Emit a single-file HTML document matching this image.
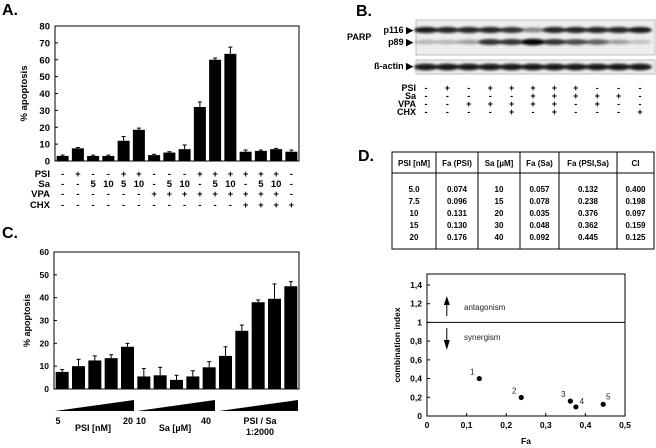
<!DOCTYPE html>
<html><head><meta charset="utf-8">
<style>
html,body{margin:0;padding:0;background:#fff;}
svg{display:block;font-family:"Liberation Sans",Arial,sans-serif;}
.b{font-weight:bold;}
</style></head>
<body>
<svg id="fig" width="656" height="448" viewBox="0 0 656 448" xmlns="http://www.w3.org/2000/svg">
<defs>
<filter id="blur1" x="-20%" y="-100%" width="140%" height="300%"><feGaussianBlur stdDeviation="1.3"/></filter>
</defs>
<g id="panelA"></g>
<g id="panelB"></g>
<g id="panelC"></g>
<g id="panelD"></g>
</svg>
<script>
// ---- Panel A data ----
const aValues = [3, 7.5, 3, 3, 12, 18.5, 3.5, 5, 7, 32, 60, 63.5, 5.5, 6, 7, 5.5];
const aErrTop = [3.5, 8, 3.5, 3.5, 14.5, 19.5, 4, 5.5, 9.5, 35, 61, 67.5, 6.5, 6.5, 7.5, 6.5];
const aTicks = [0, 10, 20, 30, 40, 50, 60, 70, 80];
const aRowNames = ["PSI", "Sa", "VPA", "CHX"];
const aPSI = ["-","+","-","-","+","+","-","-","-","+","+","+","+","+","+","-"];
const aSa  = ["-","-","5","10","5","10","-","5","10","-","5","10","-","5","10","-"];
const aVPA = ["-","-","-","-","-","-","+","+","+","+","+","+","+","+","+","-"];
const aCHX = ["-","-","-","-","-","-","-","-","-","-","-","-","+","+","+","+"];
// ---- Panel B data ----
const bPSI = ["-","+","-","+","+","+","+","+","-","-","-"];
const bSa  = ["-","-","-","-","-","+","+","+","+","+","-"];
const bVPA = ["-","-","+","+","+","+","+","-","+","-","-"];
const bCHX = ["-","-","-","-","+","-","+","-","-","-","+"];
const bP116 = [0.9, 0.85, 0.85, 0.85, 0.8, 0.45, 0.85, 0.85, 0.85, 0.85, 0.9];
const bP89  = [0.25, 0.25, 0.35, 0.8, 0.8, 1.0, 0.8, 0.7, 0.6, 0.35, 0.2];
const bActin = [0.9, 0.9, 0.9, 0.9, 0.9, 0.9, 0.9, 0.9, 0.9, 0.9, 0.9];
// ---- Panel C data ----
const cValues = [7.5, 10, 12.5, 13.5, 18.5, 5.5, 6, 4, 5.5, 9.5, 14.5, 25.5, 38, 39.5, 45];
const cErrTop = [8.5, 13, 14.5, 15, 20, 9, 9.5, 6, 8, 12, 18.5, 28, 39, 46, 47];
const cTicks = [0, 10, 20, 30, 40, 50, 60];
// ---- Panel D data ----
const dHeaders = ["PSI [nM]", "Fa (PSI)", "Sa [\u00B5M]", "Fa (Sa)", "Fa (PSI,Sa)", "CI"];
const dPSI = ["5.0", "7.5", "10", "15", "20"];
const dFaPSI = ["0.074", "0.096", "0.131", "0.130", "0.176"];
const dSa = ["10", "15", "20", "30", "40"];
const dFaSa = ["0.057", "0.078", "0.035", "0.048", "0.092"];
const dFaComb = [0.132, 0.238, 0.376, 0.362, 0.445];
const dCI = [0.400, 0.198, 0.097, 0.159, 0.125];
const dPointFa = [0.132, 0.238, 0.362, 0.376, 0.445];
const dPointCI = [0.400, 0.198, 0.159, 0.097, 0.125];
const dPointLabels = ["1", "2", "3", "4", "5"];
const dXTicks = [0, 0.1, 0.2, 0.3, 0.4, 0.5];
const dYTicks = [0, 0.2, 0.4, 0.6, 0.8, 1, 1.2, 1.4];

const NS = "http://www.w3.org/2000/svg";
function mk(parent, tag, attrs, text) {
  const el = document.createElementNS(NS, tag);
  for (const k in attrs) el.setAttribute(k, attrs[k]);
  if (text !== undefined) el.textContent = text;
  parent.appendChild(el);
  return el;
}
function fmtComma(v){ return (Math.round(v*10)/10).toString().replace('.', ','); }

// ================= Panel A =================
(function(){
  const g = document.getElementById('panelA');
  let t = mk(g,'text',{x:2,y:15,'font-size':16,'font-weight':'bold'},'A.');
  
  
  const x0=55, x1=299, yTop=26, yBot=161, vmax=80;
  const ys = v => yBot - v/vmax*(yBot-yTop);
  const step = (x1-x0)/aValues.length;
  const xc = i => x0 + step*(i+0.5);
  let r = mk(g,'rect',{x:x0,y:yTop,width:x1-x0,height:yBot-yTop,fill:'none',stroke:'#000','stroke-width':1});
  
  
  aTicks.forEach(v=>{
    const tk = mk(g,'line',{x1:x0,x2:x0+3,y1:ys(v),y2:ys(v),stroke:'#000'});
    
    
    const tl = mk(g,'text',{x:x0-5,y:ys(v)+3.5,'font-size':9.5,'font-weight':'bold','text-anchor':'end'},v);
    
    
  });
  const yt = mk(g,'text',{x:0,y:0,'font-size':9.5,'font-weight':'bold','text-anchor':'middle',transform:'translate(27,'+((yTop+yBot)/2)+') rotate(-90)'},'% apoptosis');
  
  
  const bw = 12;
  aValues.forEach((v,i)=>{
    const cx = xc(i);
    const e = mk(g,'line',{x1:cx,x2:cx,y1:ys(v),y2:ys(aErrTop[i]),stroke:'#000','stroke-width':1});
    
    
    const c = mk(g,'line',{x1:cx-2,x2:cx+2,y1:ys(aErrTop[i]),y2:ys(aErrTop[i]),stroke:'#000','stroke-width':1});
    
    
    const b = mk(g,'rect',{x:cx-bw/2,y:ys(v),width:bw,height:yBot-ys(v),fill:'#000'});
    
    
  });
  const rows=[aPSI,aSa,aVPA,aCHX], rowY=[177,187,197,208];
  rows.forEach((row,ri)=>{
    const lab = mk(g,'text',{x:50,y:rowY[ri],'font-size':9.5,'font-weight':'bold','text-anchor':'end'},aRowNames[ri]);
    
    
    row.forEach((s,i)=>{
      const tt = mk(g,'text',{x:xc(i),y:rowY[ri],'font-size':9.5,'font-weight':'bold','text-anchor':'middle'},s);
      
      
    });
  });
})();

// ================= Panel B =================
(function(){
  const g = document.getElementById('panelB');
  let t = mk(g,'text',{x:356,y:16,'font-size':16,'font-weight':'bold'},'B.');
  
  
  const lx0=426, lx1=640, n=bP116.length;
  const lx = i => lx0 + (lx1-lx0)*i/(n-1);
  const f1 = mk(g,'rect',{x:416,y:20,width:239,height:35,fill:'#eeeeee',stroke:'#999','stroke-width':0.6});
  
  
  const f2 = mk(g,'rect',{x:416,y:60,width:239,height:14,fill:'#eeeeee',stroke:'#999','stroke-width':0.6});
  
  
  const bandSets=[[bP116,30,3],[bP89,42,3],[bActin,67,3.2]];
  const names=['p116-band','p89-band','actin-band'];
  bandSets.forEach((bs,k)=>{
    bs[0].forEach((v,i)=>{
      const e = mk(g,'ellipse',{cx:lx(i),cy:bs[1],rx:12,ry:bs[2]*(0.6+0.5*v),fill:'#000','fill-opacity':v,filter:'url(#blur1)'});
      
      
    });
  });
  const labs=[['p116 \u25B6',372,33],['p89 \u25B6',372,45],['\u00DF-actin \u25B6',366,69]];
  labs.forEach(l=>{
    const tt = mk(g,'text',{x:413,y:l[2],'font-size':9,'font-weight':'bold','text-anchor':'end'},l[0]);
    
    
  });
  const p = mk(g,'text',{x:347,y:40,'font-size':9,'font-weight':'bold'},'PARP');
  
  
  const rows=[bPSI,bSa,bVPA,bCHX], rn=['PSI','Sa','VPA','CHX'], ry=[91,99,107,115];
  rows.forEach((row,ri)=>{
    const lab = mk(g,'text',{x:416,y:ry[ri],'font-size':9,'font-weight':'bold','text-anchor':'end'},rn[ri]);
    
    
    row.forEach((s,i)=>{
      const tt = mk(g,'text',{x:lx(i),y:ry[ri],'font-size':9,'font-weight':'bold','text-anchor':'middle'},s);
      
      
    });
  });
})();

// ================= Panel C =================
(function(){
  const g = document.getElementById('panelC');
  let t = mk(g,'text',{x:2,y:238,'font-size':16,'font-weight':'bold'},'C.');
  
  
  const x0=54, x1=299, yTop=252, yBot=389, vmax=60;
  const ys = v => yBot - v/vmax*(yBot-yTop);
  const step=(x1-x0)/cValues.length;
  const xc = i => x0 + step*(i+0.5);
  let r = mk(g,'rect',{x:x0,y:yTop,width:x1-x0,height:yBot-yTop,fill:'none',stroke:'#000','stroke-width':1});
  
  
  cTicks.forEach(v=>{
    const tk = mk(g,'line',{x1:x0,x2:x0+3,y1:ys(v),y2:ys(v),stroke:'#000'});
    
    
    const tl = mk(g,'text',{x:x0-5,y:ys(v)+3,'font-size':8.5,'font-weight':'bold','text-anchor':'end'},v);
    
    
  });
  const yt = mk(g,'text',{x:0,y:0,'font-size':9,'font-weight':'bold','text-anchor':'middle',transform:'translate(30,'+((yTop+yBot)/2)+') rotate(-90)'},'% apoptosis');
  
  
  const bw=13;
  cValues.forEach((v,i)=>{
    const cx=xc(i);
    const e = mk(g,'line',{x1:cx,x2:cx,y1:ys(v),y2:ys(cErrTop[i]),stroke:'#000'});
    
    
    const c = mk(g,'line',{x1:cx-2,x2:cx+2,y1:ys(cErrTop[i]),y2:ys(cErrTop[i]),stroke:'#000'});
    
    
    const b = mk(g,'rect',{x:cx-bw/2,y:ys(v),width:bw,height:yBot-ys(v),fill:'#000'});
    
    
  });
  const wedges=[[55,134],[137,215],[219,298]];
  wedges.forEach(w=>{
    const p = mk(g,'polygon',{points:w[0]+',411 '+w[1]+',411 '+w[1]+',400',fill:'#000'});
    
    
  });
  const labs=[['5',58,424,'middle'],['20',128,424,'middle'],['PSI [nM]',93,431,'middle'],['10',141,424,'middle'],['40',206,424,'middle'],['Sa [\u00B5M]',175,431,'middle'],['PSI / Sa',260,424,'middle'],['1:2000',260,435,'middle']];
  labs.forEach(l=>{
    const tt = mk(g,'text',{x:l[1],y:l[2],'font-size':9,'font-weight':'bold','text-anchor':l[3]},l[0]);
    
    
  });
})();

// ================= Panel D =================
(function(){
  const g = document.getElementById('panelD');
  let t = mk(g,'text',{x:358,y:161,'font-size':16,'font-weight':'bold'},'D.');
  
  
  const cols=[392,436,478,520,559,617,655];
  const tb = mk(g,'rect',{x:392,y:152,width:262,height:97,fill:'none',stroke:'#000','stroke-width':1});
  
  
  const hl = mk(g,'line',{x1:392,x2:654,y1:173,y2:173,stroke:'#000'});
  
  
  for(let i=1;i<cols.length-1;i++){
    const l = mk(g,'line',{x1:cols[i],x2:cols[i],y1:152,y2:249,stroke:'#000'});
    
    
  }
  const cx = i => (cols[i]+Math.min(cols[i+1],654))/2;
  dHeaders.forEach((h,i)=>{
    const tt = mk(g,'text',{x:cx(i),y:166,'font-size':8,'font-weight':'bold','text-anchor':'middle'},h);
    
    
  });
  const colsData=[dPSI,dFaPSI,dSa,dFaSa,dFaComb.map(v=>v.toFixed(3)),dCI.map(v=>v.toFixed(3))];
  colsData.forEach((col,ci)=>{
    col.forEach((v,ri)=>{
      const tt = mk(g,'text',{x:cx(ci),y:192+ri*12,'font-size':8,'font-weight':'bold','text-anchor':'middle'},v);
      
      
    });
  });
  // scatter
  const x0=427, x1=625, yTop=274, yBot=416;
  const xs = v => x0 + v/0.5*(x1-x0);
  const ys = v => yBot - v/1.4*(yBot-285);
  const fr = mk(g,'rect',{x:x0,y:yTop,width:x1-x0,height:yBot-yTop,fill:'none',stroke:'#000','stroke-width':1});
  
  
  dXTicks.forEach(v=>{
    const tk = mk(g,'line',{x1:xs(v),x2:xs(v),y1:yBot,y2:yBot-3,stroke:'#000'});
    
    
    const tl = mk(g,'text',{x:xs(v),y:428,'font-size':8.5,'font-weight':'bold','text-anchor':'middle'},fmtComma(v));
    
    
  });
  dYTicks.forEach(v=>{
    const tk = mk(g,'line',{x1:x0,x2:x0+3,y1:ys(v),y2:ys(v),stroke:'#000'});
    
    
    const tl = mk(g,'text',{x:x0-5,y:ys(v)+3,'font-size':8.5,'font-weight':'bold','text-anchor':'end'},fmtComma(v));
    
    
  });
  const ref = mk(g,'line',{x1:x0,x2:x1,y1:ys(1),y2:ys(1),stroke:'#000','stroke-width':1});
  
  
  const xt = mk(g,'text',{x:(x0+x1)/2,y:444,'font-size':8.5,'font-weight':'bold','text-anchor':'middle'},'Fa');
  
  
  const yt = mk(g,'text',{x:0,y:0,'font-size':8.5,'font-weight':'bold','text-anchor':'middle',transform:'translate(400,'+((yTop+yBot)/2)+') rotate(-90)'},'combination index');
  
  
  // arrows
  const ax = xs(0.05);
  const a1 = mk(g,'line',{x1:ax,x2:ax,y1:316,y2:300,stroke:'#000','stroke-width':1});
  
  
  const a1h = mk(g,'polygon',{points:(ax-3)+',305 '+ax+',296 '+(ax+3)+',305',fill:'#000'});
  
  
  const a2 = mk(g,'line',{x1:ax,x2:ax,y1:328,y2:345,stroke:'#000','stroke-width':1});
  
  
  const a2h = mk(g,'polygon',{points:(ax-3)+',340 '+ax+',350 '+(ax+3)+',340',fill:'#000'});
  
  
  const at = mk(g,'text',{x:464,y:310,'font-size':8,fill:'#222'},'antagonism');
  
  
  const st = mk(g,'text',{x:464,y:340,'font-size':8,fill:'#222'},'synergism');
  
  
  const offs=[[-7,-4],[-7,-4],[-7,-4],[6,-3],[5,-5]];
  dPointFa.forEach((fa,i)=>{
    const c = mk(g,'circle',{cx:xs(fa),cy:ys(dPointCI[i]),r:2.6,fill:'#000'});
    
    
    const l = mk(g,'text',{x:xs(fa)+offs[i][0],y:ys(dPointCI[i])+offs[i][1],'font-size':8,fill:'#222','text-anchor':'middle'},dPointLabels[i]);
    
    
  });
})();
</script>
</body></html>
